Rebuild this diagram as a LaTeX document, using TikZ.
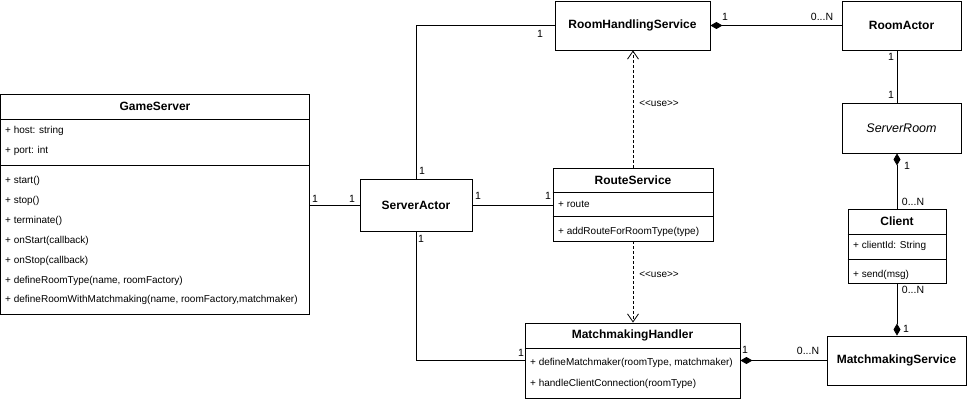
\documentclass[tikz,border=0pt]{standalone}
\usepackage{fontspec}
\setmainfont{Liberation Sans}
\usetikzlibrary{arrows.meta,calc}
\begin{document}
\begin{tikzpicture}[x=1pt,y=-1pt,
  umlbox/.style={draw,line width=0.9pt,rectangle,inner sep=0pt},
  ttl/.style={font=\fontsize{12}{14}\selectfont\bfseries,inner sep=0pt},
  member/.style={font=\fontsize{10}{12}\selectfont,anchor=west,inner sep=0pt},
  mult/.style={font=\fontsize{10.5}{12}\selectfont,inner sep=0pt},
  stereo/.style={font=\fontsize{10}{12}\selectfont,inner sep=0pt},
  assoc/.style={draw,line width=0.8pt},
  compo/.style={assoc,{Diamond[fill=black,length=12pt,width=7pt]}-},
  depend/.style={assoc,dashed,dash pattern=on 3pt off 2pt,-{Straight Barb[length=8pt,width=11pt]}},
  sep/.style={draw,line width=0.9pt}]
\useasboundingbox (0,0) rectangle (967,401);

% ---------- GameServer ----------
\node[umlbox,minimum width=309pt,minimum height=220pt] (gs) at (155,204) {};
\node[ttl] (gst) at ($(gs.north)+(0,13)$) {GameServer};
\draw[sep] ($(gs.north west)+(0,26)$) -- ($(gs.north east)+(0,26)$);
\draw[sep] ($(gs.north west)+(0,72)$) -- ($(gs.north east)+(0,72)$);
\node[member] (gs1) at (5,131) {+ host: string};
\node[member] (gs2) at (5,151) {+ port: int};
\node[member] (gs3) at (5,181) {+ start()};
\node[member] (gs4) at (5,201) {+ stop()};
\node[member] (gs5) at (5,221) {+ terminate()};
\node[member] (gs6) at (5,241) {+ onStart(callback)};
\node[member] (gs7) at (5,261) {+ onStop(callback)};
\node[member] (gs8) at (5,281) {+ defineRoomType(name, roomFactory)};
\node[member] (gs9) at (5,300) {+ defineRoomWithMatchmaking(name, roomFactory,matchmaker)};

% ---------- ServerActor ----------
\node[umlbox,minimum width=112pt,minimum height=52pt,ttl] (sa) at (416,205) {ServerActor};

% ---------- RoomHandlingService ----------
\node[umlbox,minimum width=155pt,minimum height=49pt,ttl] (rhs) at (632.5,25.5) {RoomHandlingService};

% ---------- RoomActor ----------
\node[umlbox,minimum width=119pt,minimum height=49pt,ttl] (ra) at (901.5,25.5) {RoomActor};

% ---------- ServerRoom ----------
\node[umlbox,minimum width=119pt,minimum height=50pt,font=\fontsize{12.5}{14}\selectfont\itshape] (sr) at (901.5,128) {ServerRoom};

% ---------- Client ----------
\node[umlbox,minimum width=98pt,minimum height=74pt] (cl) at (897,246) {};
\node[ttl] (clt) at ($(cl.north)+(0,13)$) {Client};
\draw[sep] ($(cl.north west)+(0,26)$) -- ($(cl.north east)+(0,26)$);
\draw[sep] ($(cl.north west)+(0,51)$) -- ($(cl.north east)+(0,51)$);
\node[member] (cl1) at (853,246) {+ clientId: String};
\node[member] (cl2) at (853,275) {+ send(msg)};

% ---------- MatchmakingService ----------
\node[umlbox,minimum width=139pt,minimum height=49pt,ttl] (ms) at (896.5,360.5) {MatchmakingService};

% ---------- RouteService ----------
\node[umlbox,minimum width=160pt,minimum height=73pt] (rs) at (633,204.5) {};
\node[ttl] (rst) at ($(rs.north)+(0,13)$) {RouteService};
\draw[sep] ($(rs.north west)+(0,25)$) -- ($(rs.north east)+(0,25)$);
\draw[sep] ($(rs.north west)+(0,49)$) -- ($(rs.north east)+(0,49)$);
\node[member] (rs1) at (558,204) {+ route};
\node[member] (rs2) at (558,232) {+ addRouteForRoomType(type)};

% ---------- MatchmakingHandler ----------
\node[umlbox,minimum width=215pt,minimum height=75pt] (mh) at (632.5,360.5) {};
\node[ttl] (mht) at ($(mh.north)+(0,13)$) {MatchmakingHandler};
\draw[sep] ($(mh.north west)+(0,26)$) -- ($(mh.north east)+(0,26)$);
\node[member] (mh1) at (530,363) {+ defineMatchmaker(roomType, matchmaker)};
\node[member] (mh2) at (530,384) {+ handleClientConnection(roomType)};

% ---------- connectors ----------
\draw[assoc] (sa.west) -- (sa.west -| gs.east);
\draw[assoc] (sa.north) |- (rhs.west);
\draw[assoc] (sa.east) -- (sa.east -| rs.west);
\draw[assoc] (sa.south) |- (mh.west);
\draw[depend] (rs.north) -- (rhs.south -| rs.north);
\draw[depend] (rs.south) -- (mh.north -| rs.south);
\draw[compo] (rhs.east) -- (ra.west);
\draw[assoc] (ra.south -| cl.north) -- (sr.north -| cl.north);
\draw[compo] (sr.south -| cl.north) -- (cl.north);
\draw[compo] (ms.north -| cl.south) -- (cl.south);
\draw[compo] (mh.east) -- (ms.west);

% ---------- labels ----------
\node[mult] (l1) at (315,199) {1};
\node[mult] (l2) at (352,199) {1};
\node[mult] (l3) at (422,171) {1};
\node[mult] (l4) at (540,34) {1};
\node[mult] (l5) at (478,196) {1};
\node[mult] (l6) at (548,196) {1};
\node[mult] (l7) at (421,239) {1};
\node[mult] (l8) at (521,353) {1};
\node[mult] (l9) at (725,17) {1};
\node[mult] (l10) at (822,17) {0...N};
\node[mult] (l11) at (891,57) {1};
\node[mult] (l12) at (891,95) {1};
\node[mult] (l13) at (907,166) {1};
\node[mult] (l14) at (913,202) {0...N};
\node[mult] (l15) at (913,290) {0...N};
\node[mult] (l16) at (906,329) {1};
\node[mult] (l17) at (745,350) {1};
\node[mult] (l18) at (808,351) {0...N};
\node[stereo] (u1) at (659,104) {<{}<use>{}>};
\node[stereo] (u2) at (659,275) {<{}<use>{}>};
\end{tikzpicture}
\end{document}
